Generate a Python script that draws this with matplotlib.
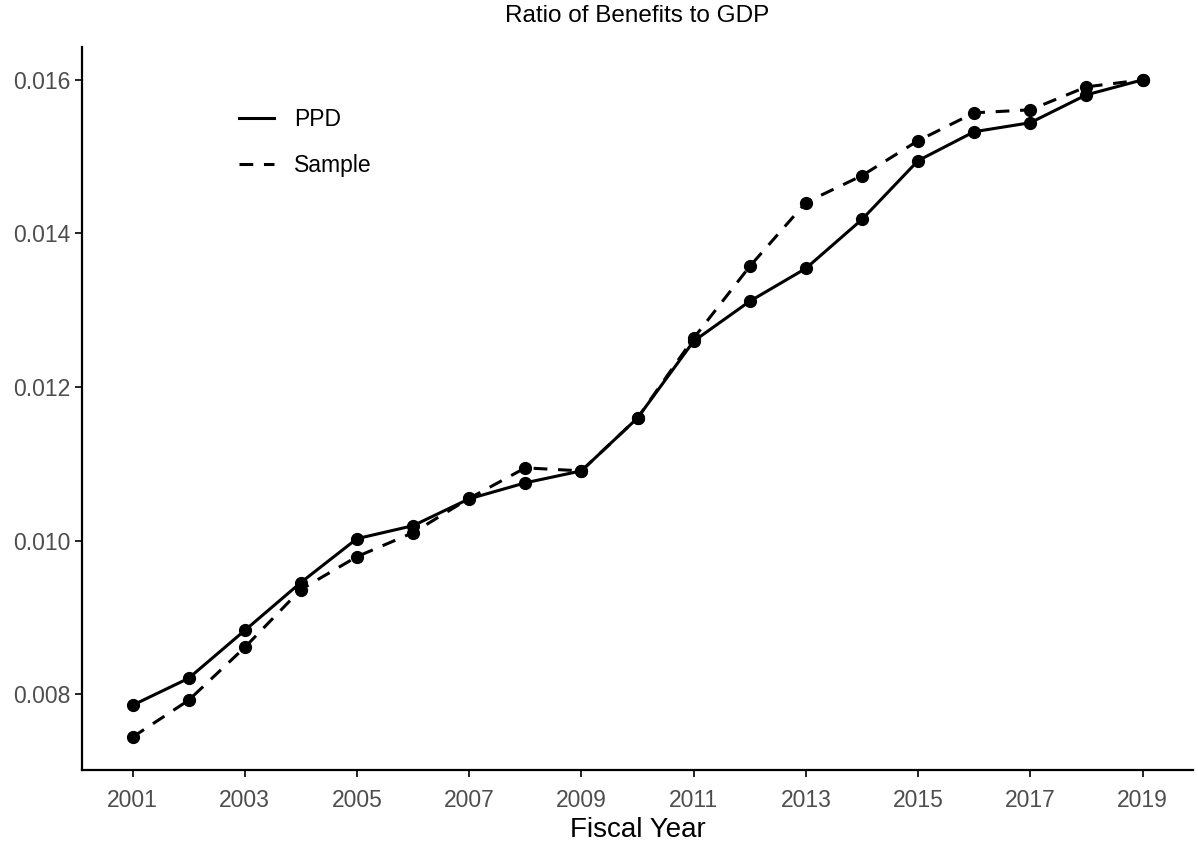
import matplotlib
matplotlib.use("Agg")
import matplotlib.pyplot as plt

plt.rcParams["font.family"] = ["Liberation Sans", "DejaVu Sans"]

years = list(range(2001, 2020))
ppd = [0.007857, 0.008208, 0.008831, 0.009455, 0.010026, 0.010195, 0.010545,
       0.010753, 0.010909, 0.011597, 0.012597, 0.013117, 0.013545, 0.014182,
       0.014948, 0.015325, 0.015442, 0.015805, 0.016000]
sample = [0.007442, 0.007922, 0.008610, 0.009364, 0.009792, 0.010104, 0.010550,
          0.010948, 0.010909, 0.011597, 0.012636, 0.013571, 0.014403, 0.014753,
          0.015208, 0.015571, 0.015610, 0.015909, 0.016000]
xticks = list(range(2001, 2020, 2))
yticks = [0.008, 0.010, 0.012, 0.014, 0.016]

fig = plt.figure(figsize=(11.98, 8.46), dpi=100)
ax = fig.add_axes([82 / 1198, 1 - 770 / 846, (1193 - 82) / 1198, (770 - 47) / 846])

ax.plot(years, ppd, color="black", lw=2.2, ls="-", marker="o", ms=8.5, label="PPD")
ax.plot(years, sample, color="black", lw=2.2, ls=(0, (4.5, 3.5)), marker="o", ms=8.5,
        label="Sample")

ax.set_xlim(2000.1, 2019.9)
ax.set_ylim(0.007014, 0.016428)
ax.set_xticks(xticks)
ax.set_yticks(yticks)
ax.set_yticklabels([f"{v:.3f}" for v in yticks])
ax.tick_params(labelsize=16.5, colors="#4D4D4D", length=5, width=1.2)
ax.tick_params(axis="both", color="black")
ax.tick_params(axis="x", pad=9)
for s in ["top", "right"]:
    ax.spines[s].set_visible(False)
for s in ["left", "bottom"]:
    ax.spines[s].set_linewidth(1.6)

ax.set_xlabel("Fiscal Year", fontsize=20, labelpad=3)
ax.set_title("Ratio of Benefits to GDP", fontsize=17.5, pad=18)

leg = ax.legend(loc="upper left", bbox_to_anchor=(0.1225, 0.944), frameon=False,
                fontsize=16.5, handlelength=1.55, labelspacing=1.0, handletextpad=0.85)
for h in leg.legend_handles:
    h.set_marker("")

fig.savefig("out.png", dpi=100)
